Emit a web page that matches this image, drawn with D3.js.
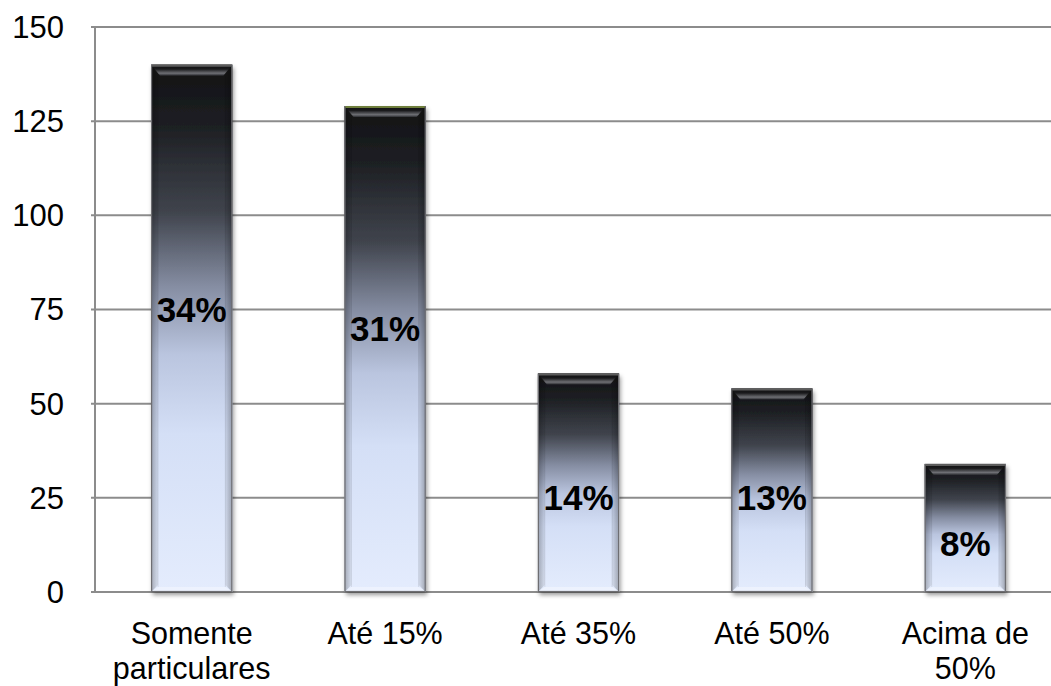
<!DOCTYPE html>
<html lang="pt">
<head>
<meta charset="utf-8">
<script src="https://cdn.jsdelivr.net/npm/d3@7"></script>
<style>
  html, body { margin: 0; padding: 0; background: #fff; }
  svg { display: block; }
  text { font-family: "Liberation Sans", Arial, Helvetica, sans-serif; }
</style>
</head>
<body>
<svg id="chart" width="1051" height="686"></svg>
<script>
// Categorias (faixas de participação) e número de respostas em cada uma
const categories = ["Somente particulares", "Até 15%", "Até 35%", "Até 50%", "Acima de 50%"];
const categoryLines = [["Somente", "particulares"], ["Até 15%"], ["Até 35%"], ["Até 50%"], ["Acima de", "50%"]];
const counts = [140, 129, 58, 54, 34];
const percentLabels = ["34%", "31%", "14%", "13%", "8%"];
// Altura (em unidades do eixo) onde cada rótulo de percentual fica
const labelAt = [75, 70, 25, 25, 13];
const yTicks = [0, 25, 50, 75, 100, 125, 150];

const svg = d3.select("#chart");
const W = 1051, H = 686;
const plot = { left: 95, right: 1062, top: 27, bottom: 592 };

const x = d3.scaleBand()
  .domain(categories)
  .range([plot.left, plot.right])
  .paddingInner(0.58)
  .paddingOuter(0.29);

const y = d3.scaleLinear()
  .domain([0, 150])
  .range([plot.bottom, plot.top]);

const defs = svg.append("defs");

// Vertical fill: near black at the top fading into pale blue at the base
const grad = defs.append("linearGradient")
  .attr("id", "barFill").attr("x1", 0).attr("y1", 0).attr("x2", 0).attr("y2", 1);
[[0, "#111214"], [0.12, "#1e2024"], [0.28, "#40444d"], [0.42, "#858da2"],
 [0.55, "#bac5df"], [0.7, "#d4dff6"], [1, "#e4ecfd"]]
  .forEach(([o, c]) => grad.append("stop").attr("offset", o).attr("stop-color", c));

// Highlight band just below the top edge
const topGlow = defs.append("linearGradient")
  .attr("id", "topGlow").attr("x1", 0).attr("y1", 0).attr("x2", 0).attr("y2", 1);
[[0, "#0e0e0f"], [0.4, "#1a1a1c"], [0.78, "#6e6f74"], [1, "#2a2b2f"]]
  .forEach(([o, c]) => topGlow.append("stop").attr("offset", o).attr("stop-color", c));

// Darker side faces
const sideL = defs.append("linearGradient")
  .attr("id", "sideL").attr("x1", 0).attr("y1", 0).attr("x2", 1).attr("y2", 0);
sideL.append("stop").attr("offset", 0).attr("stop-color", "#000").attr("stop-opacity", 0.28);
sideL.append("stop").attr("offset", 1).attr("stop-color", "#000").attr("stop-opacity", 0.06);
const sideR = defs.append("linearGradient")
  .attr("id", "sideR").attr("x1", 0).attr("y1", 0).attr("x2", 1).attr("y2", 0);
sideR.append("stop").attr("offset", 0).attr("stop-color", "#000").attr("stop-opacity", 0.06);
sideR.append("stop").attr("offset", 1).attr("stop-color", "#000").attr("stop-opacity", 0.3);

const shadow = defs.append("filter").attr("id", "shadow")
  .attr("x", "-20%").attr("y", "-10%").attr("width", "140%").attr("height", "130%");
shadow.append("feDropShadow")
  .attr("dx", 1.5).attr("dy", 3).attr("stdDeviation", 2.2)
  .attr("flood-color", "#000").attr("flood-opacity", 0.4);

// Gridlines
svg.append("g")
  .selectAll("line")
  .data(yTicks)
  .join("line")
  .attr("x1", plot.left - 4).attr("x2", W)
  .attr("y1", d => y(d)).attr("y2", d => y(d))
  .attr("stroke", "#8c8c8c").attr("stroke-width", 2);

// Vertical axis line
svg.append("line")
  .attr("x1", plot.left).attr("x2", plot.left)
  .attr("y1", y(150)).attr("y2", y(0))
  .attr("stroke", "#8c8c8c").attr("stroke-width", 2);

// Y tick labels
svg.append("g")
  .selectAll("text")
  .data(yTicks)
  .join("text")
  .attr("x", 64).attr("y", d => y(d))
  .attr("dy", "0.35em")
  .attr("text-anchor", "end")
  .attr("font-size", 31)
  .attr("fill", "#000")
  .text(d => d);

// Bars
const rimColors = ["#5c5c5c", "#6f7f3c", "#5c5c5c", "#5c5c5c", "#5c5c5c"];
const bars = svg.append("g")
  .selectAll("g")
  .data(categories.map((c, i) => ({ c, v: counts[i], i })))
  .join("g");

bars.each(function (d) {
  const g = d3.select(this);
  const x0 = x(d.c), w = x.bandwidth();
  const top = y(d.v), bot = y(0), h = bot - top;
  const b = 7; // bevel size

  g.append("rect")
    .attr("x", x0).attr("y", top).attr("width", w).attr("height", h)
    .attr("fill", "url(#barFill)")
    .attr("filter", "url(#shadow)");

  // side faces
  g.append("path")
    .attr("d", `M${x0},${top} L${x0 + b},${top + b} L${x0 + b},${bot - b} L${x0},${bot} Z`)
    .attr("fill", "url(#sideL)");
  g.append("path")
    .attr("d", `M${x0 + w},${top} L${x0 + w - b},${top + b} L${x0 + w - b},${bot - b} L${x0 + w},${bot} Z`)
    .attr("fill", "url(#sideR)");

  // top face with highlight
  g.append("path")
    .attr("d", `M${x0},${top} L${x0 + w},${top} L${x0 + w - b - 2},${top + b + 4} L${x0 + b + 2},${top + b + 4} Z`)
    .attr("fill", "url(#topGlow)");

  // bottom face
  g.append("path")
    .attr("d", `M${x0},${bot} L${x0 + w},${bot} L${x0 + w - b},${bot - 5} L${x0 + b},${bot - 5} Z`)
    .attr("fill", "#ffffff").attr("fill-opacity", 0.35);

  // inner edge lines
  g.append("line")
    .attr("x1", x0 + b).attr("x2", x0 + b).attr("y1", top + b + 4).attr("y2", bot - 5)
    .attr("stroke", "#000").attr("stroke-opacity", 0.08).attr("stroke-width", 1);
  g.append("line")
    .attr("x1", x0 + w - b).attr("x2", x0 + w - b).attr("y1", top + b + 4).attr("y2", bot - 5)
    .attr("stroke", "#000").attr("stroke-opacity", 0.1).attr("stroke-width", 1);

  // outline
  g.append("rect")
    .attr("x", x0 + 0.5).attr("y", top + 0.5).attr("width", w - 1).attr("height", h - 1)
    .attr("fill", "none").attr("stroke", "#6e6e72").attr("stroke-width", 1.2);
  g.append("line")
    .attr("x1", x0 + 1).attr("x2", x0 + w - 1).attr("y1", top + 1).attr("y2", top + 1)
    .attr("stroke", rimColors[d.i]).attr("stroke-width", 2);
});

// Percentage labels inside the bars
svg.append("g")
  .selectAll("text")
  .data(categories.map((c, i) => ({ c, t: percentLabels[i], at: labelAt[i] })))
  .join("text")
  .attr("x", d => x(d.c) + x.bandwidth() / 2)
  .attr("y", d => y(d.at))
  .attr("dy", "0.36em")
  .attr("text-anchor", "middle")
  .attr("font-size", 35)
  .attr("font-weight", "bold")
  .attr("fill", "#000")
  .text(d => d.t);

// Category labels
const catG = svg.append("g")
  .selectAll("text")
  .data(categories.map((c, i) => ({ c, lines: categoryLines[i] })))
  .join("text")
  .attr("x", d => x(d.c) + x.bandwidth() / 2)
  .attr("y", 644)
  .attr("text-anchor", "middle")
  .attr("font-size", 30.5)
  .attr("fill", "#000");

catG.selectAll("tspan")
  .data(d => d.lines.map(l => ({ l, cx: x(d.c) + x.bandwidth() / 2 })))
  .join("tspan")
  .attr("x", d => d.cx)
  .attr("dy", (d, i) => i === 0 ? 0 : 34.5)
  .text(d => d.l);
</script>
</body>
</html>
